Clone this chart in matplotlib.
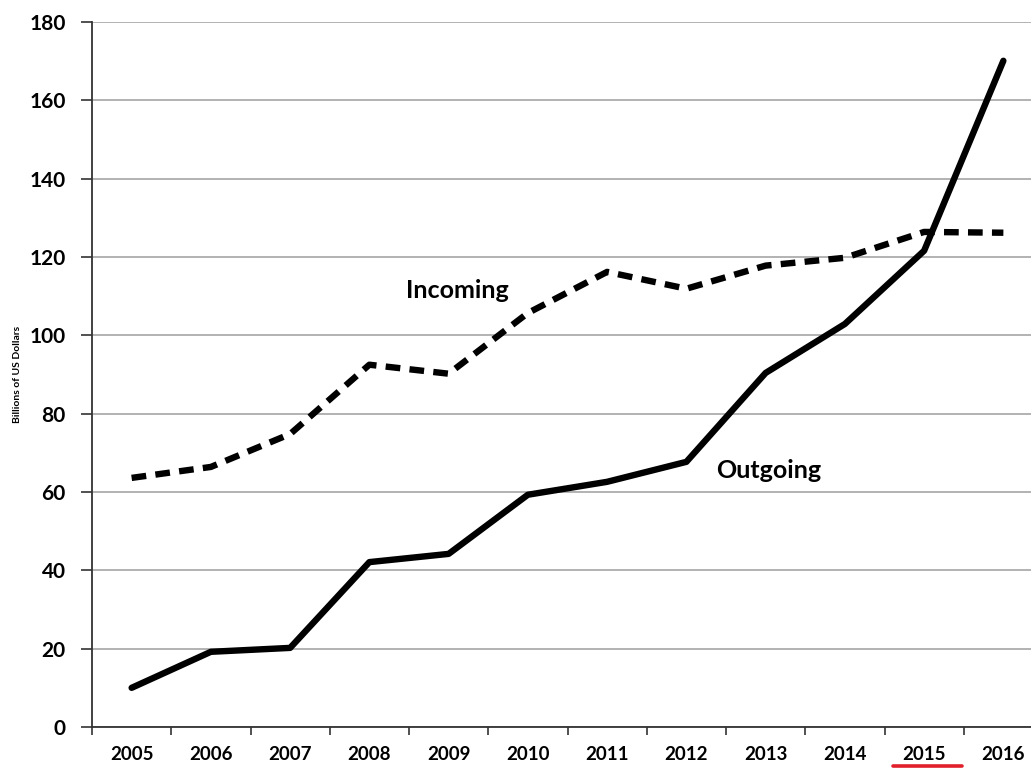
import matplotlib
matplotlib.use("Agg")
import matplotlib.pyplot as plt
from matplotlib.lines import Line2D

years = ["2005", "2006", "2007", "2008", "2009", "2010",
         "2011", "2012", "2013", "2014", "2015", "2016"]
outgoing = [10, 19.2, 20.2, 42.1, 44.2, 59.3, 62.6, 67.7, 90.4, 102.9, 121.6, 170.1]
incoming = [63.6, 66.4, 74.8, 92.5, 90.2, 105.7, 116.2, 111.9, 117.8, 119.8, 126.4, 126.2]
yticks = [0, 20, 40, 60, 80, 100, 120, 140, 160, 180]

plt.rcParams['font.family'] = ['Lato', 'DejaVu Sans']

W, H = 1031, 768
fig = plt.figure(figsize=(W / 100, H / 100), dpi=100)
left, right, top, bottom = 92, 1043, 22, 727
ax = fig.add_axes([left / W, 1 - bottom / H, (right - left) / W, (bottom - top) / H])

x = list(range(len(years)))
ax.plot(x, outgoing, color='black', lw=4.6, solid_capstyle='round', solid_joinstyle='round', zorder=3)
ax.plot(x, incoming, color='black', lw=4.6, linestyle=(0, (2.3, 1.45)), dash_capstyle='butt', zorder=3)

ax.set_xlim(-0.5, len(years) - 0.5)
ax.set_ylim(0, 180)
ax.set_yticks(yticks)
ax.set_yticklabels([str(v) for v in yticks], fontsize=15, fontweight='bold')
ax.set_xticks(x)
ax.set_xticklabels(years, fontsize=13.5, fontweight='bold')
ax.set_xticks([i - 0.5 for i in range(len(years) + 1)], minor=True)
ax.tick_params(axis='x', which='major', length=0, pad=14)
ax.tick_params(axis='x', which='minor', length=6, width=1.2, color='#333333', direction='out')
ax.tick_params(axis='y', which='major', length=8, width=1.2, color='#333333', pad=11)

ax.yaxis.grid(True, color='#a6a6a6', lw=1.2)
ax.set_axisbelow(True)
for s in ['top', 'right']:
    ax.spines[s].set_visible(False)
for s in ['left', 'bottom']:
    ax.spines[s].set_color('#333333')
    ax.spines[s].set_linewidth(1.3)

ax.set_ylabel('Billions of US Dollars', fontsize=7.5, fontweight='bold')
ax.yaxis.set_label_coords(-70 / (right - left), 0.5)

ax.text(4.11, 111.5, 'Incoming', fontsize=18, fontweight='bold', ha='center', va='center')
ax.text(8.04, 65.5, 'Outgoing', fontsize=18, fontweight='bold', ha='center', va='center')

# red underline under 2015 label
fig.add_artist(Line2D([893 / W, 962 / W], [1 - 765.5 / H, 1 - 765.5 / H],
                      color='#e0202a', lw=2.6, solid_capstyle='round'))

fig.savefig('out.png', dpi=100)
